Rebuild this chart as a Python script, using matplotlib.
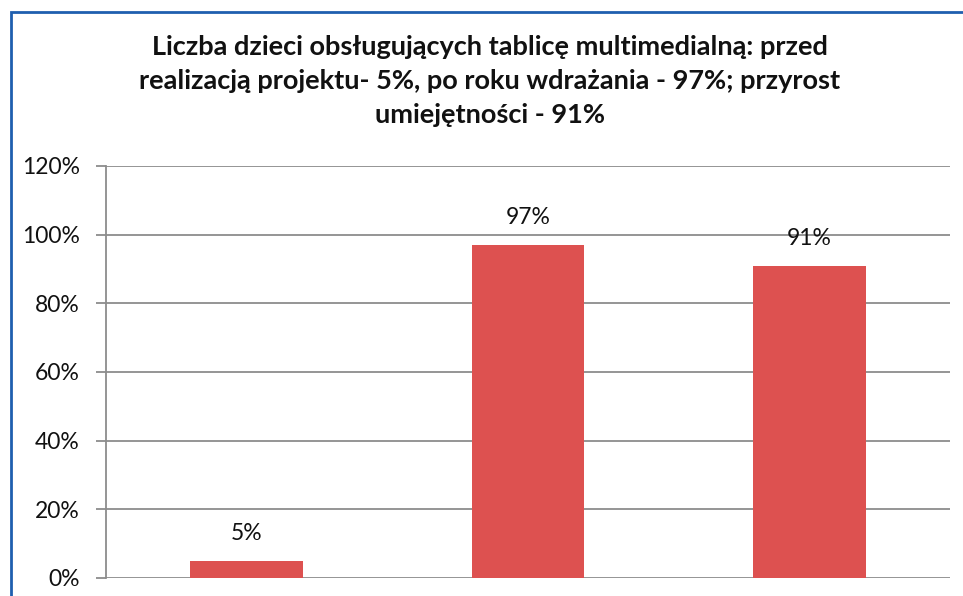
import numpy as np
import matplotlib.pyplot as plt
from matplotlib.patches import Rectangle
from matplotlib.ticker import FuncFormatter

# data
categories = ['przed realizacją', 'po roku wdrażania', 'przyrost umiejętności']
values = [5, 97, 91]
yticks = [0, 20, 40, 60, 80, 100, 120]
title = ('Liczba dzieci obsługujących tablicę multimedialną: przed\n'
         'realizacją projektu- 5%, po roku wdrażania - 97%; przyrost\n'
         'umiejętności - 91%')

plt.rcParams['font.family'] = ['Lato', 'DejaVu Sans']

fig = plt.figure(figsize=(9.63, 5.96), dpi=100)

# blue chart-area frame (right and bottom edges fall outside the crop)
fig.add_artist(Rectangle((11/963, -0.05), 1.2, 1 - 12/596 + 0.05,
                         transform=fig.transFigure, fill=False,
                         edgecolor='#1F5FAF', linewidth=2))

ax = fig.add_axes([106/963, 18/596, (950-106)/963, (578-166)/596])

x = np.arange(len(categories))
bars = ax.bar(x, values, width=0.40, color='#DD5150', zorder=3)
for b, v in zip(bars, values):
    ax.annotate(f'{v}%', (b.get_x() + b.get_width()/2, v),
                xytext=(0, 19.5), textcoords='offset points',
                ha='center', va='center', fontsize=16.5, color='#111111')

ax.set_xlim(-0.5, len(categories) - 0.5)
ax.set_ylim(0, 120)
ax.set_yticks(yticks)
ax.yaxis.set_major_formatter(FuncFormatter(lambda v, p: f'{v:.0f}%'))
ax.set_xticks([])
ax.grid(axis='y', color='#8C8C8C', linewidth=1.3, zorder=0)
ax.tick_params(axis='y', length=7, width=1.3, color='#8C8C8C',
               labelsize=16.5, labelcolor='#111111', pad=12)
for s in ['top', 'right', 'bottom']:
    ax.spines[s].set_visible(False)
ax.spines['left'].set_color('#8C8C8C')
ax.spines['left'].set_linewidth(1.3)

fig.text(490/963, 1 - 81/596, title, ha='center', va='center',
         fontsize=19.5, fontweight='bold', color='#111111', linespacing=1.52)

fig.savefig('out.png', dpi=100, facecolor='white')
